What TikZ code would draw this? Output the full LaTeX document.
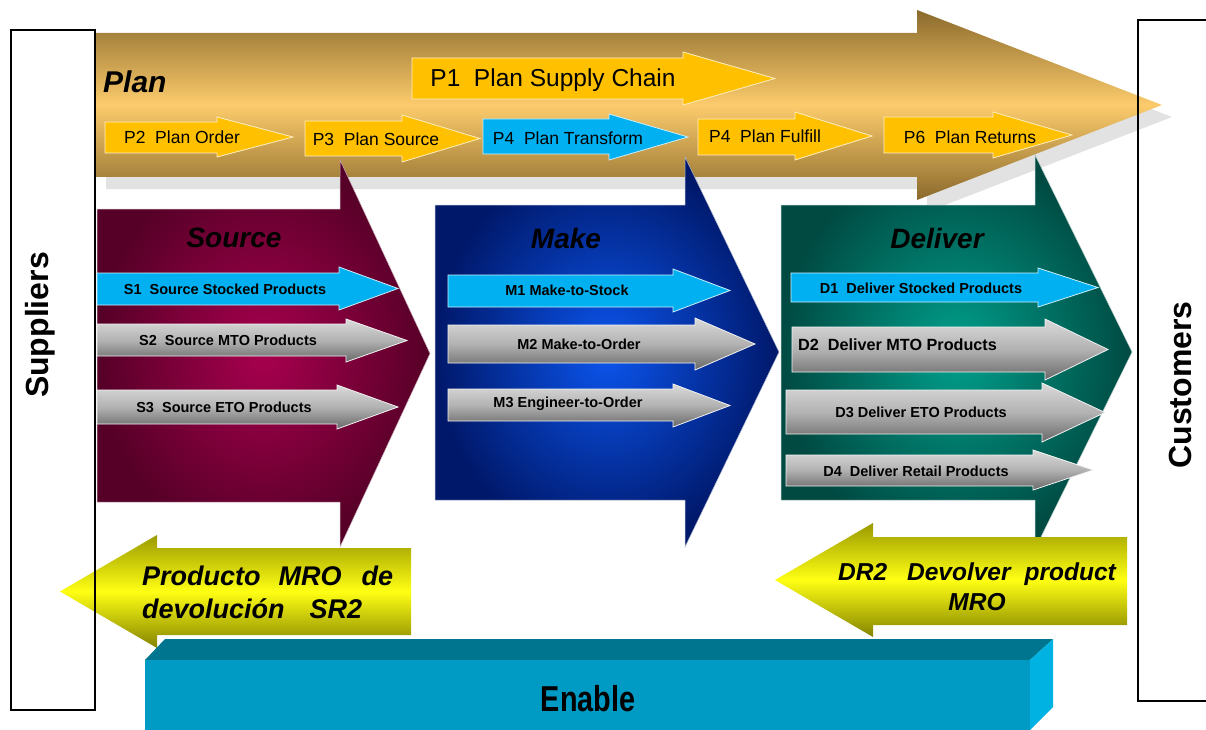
\documentclass[tikz,border=0pt]{standalone}
\usepackage{fontspec}
\setmainfont{Liberation Sans}

\definecolor{plandark}{HTML}{8A6A2C}
\definecolor{planlight}{HTML}{FCCB6C}
\definecolor{pshadow}{HTML}{E2E2E2}
\definecolor{pgold}{HTML}{FFC000}
\definecolor{stepblue}{HTML}{00B0F0}
\definecolor{graytop}{HTML}{DADADA}
\definecolor{graymid}{HTML}{B2B2B2}
\definecolor{graybot}{HTML}{686868}
\definecolor{srcin}{HTML}{A8004E}
\definecolor{srcout}{HTML}{560027}
\definecolor{makein}{HTML}{0B55EE}
\definecolor{makeout}{HTML}{00186A}
\definecolor{delin}{HTML}{00A08C}
\definecolor{delout}{HTML}{004A42}
\definecolor{retolive}{HTML}{9A9A00}
\definecolor{retyellow}{HTML}{FFFF14}
\definecolor{enfront}{HTML}{009BC4}
\definecolor{entop}{HTML}{00758F}
\definecolor{enside}{HTML}{00B2E2}

% block arrow: [style]{x start}{x head}{y top}{y bottom}{head top}{head bottom}{x tip}
\newcommand{\harrow}[8][]{\path[#1] (#2,#4) -- (#3,#4) -- (#3,#6) -- (#8,{(#6+#7)/2})
  -- (#3,#7) -- (#3,#5) -- (#2,#5) -- cycle;}

\begin{document}
\begin{tikzpicture}[x=1pt,y=-1pt]

      \tikzset{ptext/.style={font=\fontsize{17.5}{20}\selectfont, inner sep=0pt},
               stext/.style={font=\bfseries\fontsize{14.5}{17}\selectfont, inner sep=0pt},
               phase/.style={font=\bfseries\itshape\fontsize{28}{32}\selectfont, inner sep=0pt},
               side/.style={font=\bfseries\fontsize{32}{36}\selectfont, rotate=90, inner sep=0pt},
               rtext/.style={font=\bfseries\itshape\fontsize{27}{33}\selectfont, inner sep=0pt},
               plarrow/.style={fill=pgold, draw=white!75!pgold, line width=0.8pt},
               bluearrow/.style={fill=stepblue, draw=white!80!stepblue, line width=0.8pt},
               grayarrow/.style={top color=graytop, bottom color=graybot, middle color=graymid,
                                 draw=white!90!gray, line width=0.8pt},
               retarrow/.style={top color=retolive, bottom color=retolive!85!black, middle color=retyellow}}
      \useasboundingbox (0,0) rectangle (1206,730);
%% Plan band
      \begin{scope}[shift={(10,12)}]
        \harrow[fill=pshadow]{96}{917}{33}{177}{10}{200}{1162}
      \end{scope}
      \harrow[top color=plandark, bottom color=plandark, middle color=planlight]{96}{917}{33}{177}{10}{200}{1162}
%% Source, Make, Deliver
      \harrow[inner color=srcin, outer color=srcout, draw=white!70!srcout, line width=0.5pt]{97}{340}{209}{502}{160}{547}{430}
      \harrow[inner color=makein, outer color=makeout, draw=white!70!makeout, line width=0.5pt]{435}{685}{205}{500}{157}{547}{779}
      \harrow[inner color=delin, outer color=delout, draw=white!70!delout, line width=0.5pt]{781}{1035}{205}{500}{155}{549}{1132}
%% Plan steps
      \harrow[plarrow]{412}{683}{58}{99}{52}{105}{775}
      \harrow[plarrow]{105}{217}{122}{153}{117}{157}{293}
      \harrow[plarrow]{305}{402}{121}{156}{115}{162}{480}
      \harrow[bluearrow]{483}{609}{119}{154}{114}{160}{688}
      \harrow[plarrow]{698}{795}{119}{155}{112}{160}{872}
      \harrow[plarrow]{884}{993}{117}{153}{112}{158}{1072}
%% Source, Make, Deliver steps
      \harrow[bluearrow]{97}{339}{273}{305}{267}{310}{398}
      \harrow[grayarrow]{97}{346}{324}{356}{319}{362}{407}
      \harrow[grayarrow]{97}{337}{390}{424}{385}{429}{398}
      \harrow[bluearrow]{448}{673}{275}{307}{269}{312}{730}
      \harrow[grayarrow]{448}{695}{325}{363}{318}{370}{755}
      \harrow[grayarrow]{448}{673}{389}{421}{384}{427}{730}
      \harrow[bluearrow]{791}{1038}{273}{302}{268}{307}{1098}
      \harrow[grayarrow]{792}{1045}{327}{372}{319}{380}{1108}
      \harrow[grayarrow]{786}{1042}{390}{434}{383}{442}{1105}
      \harrow[grayarrow]{786}{1033}{455}{486}{450}{490}{1093}
%% Returns
      \harrow[retarrow]{411}{157}{548}{635}{535}{648}{60}
      \harrow[retarrow]{1127}{873}{537}{625}{523}{637}{775}
%% Enable
      \fill[entop] (145,660) -- (165,639) -- (1053,639) -- (1030,660) -- cycle;
      \fill[enside] (1030,660) -- (1053,639) -- (1053,707) -- (1030,730) -- cycle;
      \fill[enfront] (145,660) rectangle (1030,730);
%% Suppliers and customers
      \draw[line width=1.2pt] (11,30) rectangle (95,710);
      \draw[line width=1.2pt] (1206,20) -- (1138,20) -- (1138,701) -- (1206,701);

%% Labels
      \node[phase, anchor=west, font=\bfseries\itshape\fontsize{30}{34}\selectfont] (plan) at (103,82) {Plan};
      \node[ptext, font=\fontsize{24.5}{28}\selectfont] (p1) at (553,80) {P1\ \ Plan Supply Chain};
      \node[ptext] (p2) at (182,137) {P2\ \ Plan Order};
      \node[ptext] (p3) at (376,139) {P3\ \ Plan Source};
      \node[ptext] (p4t) at (568,138) {P4\ \ Plan Transform};
      \node[ptext] (p4f) at (765,136) {P4\ \ Plan Fulfill};
      \node[ptext] (p6) at (970,137) {P6\ \ Plan Returns};

      \node[phase] (source) at (234,238) {Source};
      \node[phase] (make) at (566,238) {Make};
      \node[phase] (deliver) at (937,238) {Deliver};

      \node[stext] (s1) at (225,289) {S1\ \ Source Stocked Products};
      \node[stext] (s2) at (228,340) {S2\ \ Source MTO Products};
      \node[stext] (s3) at (224,407) {S3\ \ Source ETO Products};
      \node[stext] (m1) at (567,290) {M1\ Make-to-Stock};
      \node[stext] (m2) at (579,344) {M2\ Make-to-Order};
      \node[stext] (m3) at (568,404) {M3\ Engineer-to-Order};
      \node[stext] (d1) at (921,288) {D1\ \ Deliver Stocked Products};
      \node[stext, anchor=west, font=\bfseries\fontsize{16.2}{19}\selectfont] (d2) at (798,345) {D2\ \ Deliver MTO Products};
      \node[stext] (d3) at (921,412) {D3 Deliver ETO Products};
      \node[stext] (d4) at (916,471) {D4\ \ Deliver Retail Products};

      \node[rtext, align=left, anchor=west] (sr2) at (142,592)
           {Producto\hspace{18pt}MRO\hspace{20pt}de\\devolución\hspace{25pt}SR2};
      \node[rtext, align=center, font=\bfseries\itshape\fontsize{24.5}{30}\selectfont] (dr2) at (977,587)
           {DR2\hspace{20pt}Devolver\hspace{14pt}product\\MRO};
      \node[font=\bfseries\fontsize{36}{40}\selectfont, inner sep=0pt] (enable) at (588,699) {\scalebox{0.8}[1]{Enable}};

      \node[side] (sup) at (40,325) {Suppliers};
      \node[side] (cus) at (1180,385) {Customers};

\end{tikzpicture}
\end{document}
